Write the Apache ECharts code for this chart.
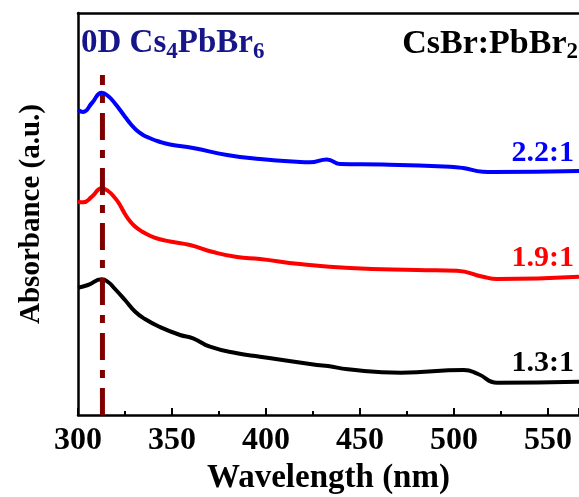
<!DOCTYPE html>
<html>
<head>
<meta charset="utf-8">
<script src="https://cdn.jsdelivr.net/npm/echarts@6/dist/echarts.min.js"></script>
<style>html,body{margin:0;padding:0;background:#fff}#c{width:579px;height:497px}</style>
</head>
<body>
<div id="c"></div>
<script>
// Wavelength (nm) and absorbance (a.u., offset for stacking)
const wl22 = [300, 302.7, 307.4, 312.6, 316, 319.7, 325, 328, 331, 334.6, 338, 343, 348.9, 361.2, 379.3, 396.8, 418.1, 423.4, 432.4, 439.4, 462.2, 497.9, 504.8, 515.4, 520.7, 566.5];
const abs22 = [3.05, 3.03, 3.12, 3.223, 3.19, 3.115, 2.983, 2.91, 2.85, 2.80, 2.77, 2.735, 2.705, 2.67, 2.60, 2.56, 2.53, 2.527, 2.556, 2.51, 2.505, 2.483, 2.47, 2.433, 2.43, 2.44];

const wl19 = [300, 302.7, 307.4, 312.6, 316, 319.7, 322, 325, 328, 331, 334, 338, 343, 349, 359.6, 371.8, 384.6, 396.8, 418.1, 444.7, 480.3, 501.6, 515.4, 522.9, 566.5];
const abs19 = [2.133, 2.127, 2.183, 2.267, 2.24, 2.17, 2.11, 2.01, 1.93, 1.875, 1.835, 1.795, 1.76, 1.735, 1.70, 1.63, 1.58, 1.56, 1.51, 1.47, 1.45, 1.443, 1.383, 1.36, 1.383];

const wl13 = [300, 305.3, 312.6, 316, 319.7, 325, 330.3, 335.6, 343.6, 354.3, 361.2, 370.2, 384.6, 396.8, 427.1, 433, 443.6, 471.8, 505.3, 512.8, 523, 566.5];
const abs13 = [1.273, 1.30, 1.357, 1.33, 1.26, 1.15, 1.035, 0.96, 0.88, 0.80, 0.767, 0.683, 0.617, 0.583, 0.50, 0.49, 0.457, 0.423, 0.45, 0.41, 0.323, 0.333];

// Cs4PbBr6 marker wavelength and its extent
const markerWl = 313;
const markerTop = 3.4;

const xTicks = [300, 350, 400, 450, 500, 550];
const seriesNames = ['2.2:1', '1.9:1', '1.3:1'];

function pairs(xs, ys) { return xs.map((x, i) => [x, ys[i]]); }

const FONT = '"Liberation Serif", "Times New Roman", serif';
const chart = echarts.init(document.getElementById('c'), null, { renderer: 'canvas' });

chart.setOption({
  backgroundColor: '#fff',
  animation: false,
  grid: { left: 78, right: 0, top: 13, bottom: 82, outerBoundsMode: 'none', containLabel: false },
  xAxis: [{
    type: 'value', min: 300, max: 566.5, interval: 50,
    name: 'Wavelength (nm)', nameLocation: 'middle', nameGap: 46,
    nameTextStyle: { fontFamily: FONT, fontWeight: 'bold', fontSize: 33, color: '#000' },
    axisLine: { show: true, onZero: false, lineStyle: { color: '#000', width: 2.5 } },
    axisTick: { show: true, inside: true, length: 7, lineStyle: { color: '#000', width: 2 } },
    minorTick: { show: true, splitNumber: 2, length: 4, lineStyle: { color: '#000', width: 2 } },
    splitLine: { show: false },
    axisLabel: {
      fontFamily: FONT, fontWeight: 'bold', fontSize: 32, color: '#000', margin: 10,
      formatter: v => (xTicks.indexOf(v) >= 0 ? String(v) : ''),
      showMaxLabel: false
    }
  }, {
    type: 'value', position: 'top', min: 300, max: 566.5,
    axisLine: { show: true, onZero: false, lineStyle: { color: '#000', width: 2.5 } },
    axisTick: { show: false }, axisLabel: { show: false }, splitLine: { show: false }
  }],
  yAxis: {
    type: 'value', min: 0, max: 4.02,
    name: 'Absorbance (a.u.)', nameLocation: 'middle', nameGap: 32,
    nameTextStyle: { fontFamily: FONT, fontWeight: 'bold', fontSize: 29, color: '#000' },
    axisLine: { show: true, onZero: false, lineStyle: { color: '#000', width: 2.5 } },
    axisTick: { show: false }, axisLabel: { show: false }, splitLine: { show: false }
  },
  series: [
    { name: seriesNames[0], type: 'line', data: pairs(wl22, abs22), smooth: 0.5, showSymbol: false,
      lineStyle: { color: '#0000ff', width: 4 } },
    { name: seriesNames[1], type: 'line', data: pairs(wl19, abs19), smooth: 0.5, showSymbol: false,
      lineStyle: { color: '#ff0000', width: 4 } },
    { name: seriesNames[2], type: 'line', data: pairs(wl13, abs13), smooth: 0.5, showSymbol: false,
      lineStyle: { color: '#000000', width: 4 } },
    { name: 'marker', type: 'line', data: [[markerWl, 0], [markerWl, markerTop]], showSymbol: false,
      z: 5, lineStyle: { color: '#7f0000', width: 5, type: [27, 10, 8, 10], cap: 'butt' } }
  ],
  graphic: [
    { type: 'text', x: 81, y: 27, style: {
        text: '{a|0D Cs}{s|4}{a|PbBr}{s|6}',
        rich: {
          a: { fontFamily: FONT, fontWeight: 'bold', fontSize: 33, lineHeight: 30, verticalAlign: 'top', fill: '#16168a' },
          s: { fontFamily: FONT, fontWeight: 'bold', fontSize: 23, lineHeight: 50, fill: '#16168a' }
        } } },
    { type: 'text', x: 578, y: 27, style: {
        text: '{a|CsBr:PbBr}{s|2}', align: 'right',
        rich: {
          a: { fontFamily: FONT, fontWeight: 'bold', fontSize: 34, lineHeight: 30, verticalAlign: 'top', fill: '#000' },
          s: { fontFamily: FONT, fontWeight: 'bold', fontSize: 23, lineHeight: 50, fill: '#000' }
        } } },
    { type: 'text', x: 574, y: 153, style: { text: seriesNames[0], align: 'right', verticalAlign: 'middle',
        font: 'bold 30px ' + FONT, fill: '#0000ff' } },
    { type: 'text', x: 574, y: 258, style: { text: seriesNames[1], align: 'right', verticalAlign: 'middle',
        font: 'bold 30px ' + FONT, fill: '#ff0000' } },
    { type: 'text', x: 574, y: 363, style: { text: seriesNames[2], align: 'right', verticalAlign: 'middle',
        font: 'bold 30px ' + FONT, fill: '#000' } }
  ]
});
</script>
</body>
</html>
